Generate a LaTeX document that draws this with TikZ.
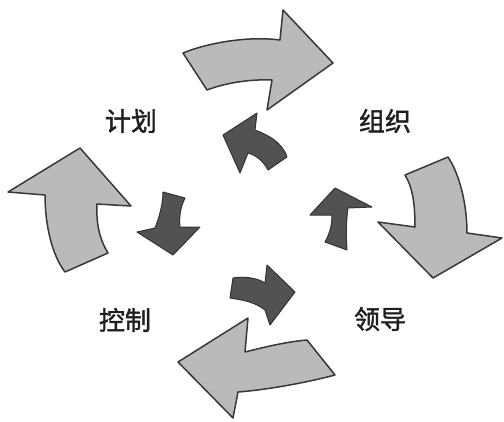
\documentclass[tikz,border=0pt]{standalone}
\usepackage{fontspec}
\newfontfamily\cjk[FakeBold=1.6]{Noto Sans CJK SC}
\tikzset{
  bigarrow/.style={fill=black!27, draw=black!78, line width=1.5pt, line join=round},
  smallarrow/.style={fill=black!68, draw=black!80, line width=1pt, line join=round},
  label/.style={font=\cjk\fontsize{26}{30}\selectfont, text=black!88, inner sep=0pt}
}
\begin{document}
\begin{tikzpicture}[x=1pt,y=-1pt]
\useasboundingbox (0,0) rectangle (504,421);
% big light arrows (clockwise)
\draw[bigarrow] (183,53) .. controls (210,42) and (250,36) .. (280,40) -- (283,10) -- (333,63) -- (267,110) -- (272,80) .. controls (250,79) and (225,83) .. (207,90) -- cycle;
\draw[bigarrow] (405,175) -- (448,157) .. controls (460,175) and (467,205) .. (467,233) -- (502,238) -- (433,278) -- (378,222) -- (415,227) .. controls (415,205) and (413,188) .. (405,175) -- cycle;
\draw[bigarrow] (178,362) -- (248,318) -- (245,352) .. controls (265,347) and (285,342) .. (307,340) -- (335,375) .. controls (305,383) and (265,390) .. (238,392) -- (233,418) -- cycle;
\draw[bigarrow] (80,148) -- (131,206) -- (97,204) .. controls (96,225) and (100,240) .. (108,253) -- (65,272) .. controls (52,255) and (45,225) .. (45,195) -- (8,192) -- cycle;
% small dark arrows (counter-clockwise)
\draw[smallarrow] (223,135) -- (257,113) -- (255,130) .. controls (268,135) and (282,142) .. (287,157) -- (268,170) .. controls (263,160) and (255,155) .. (248,153) -- (240,173) -- cycle;
\draw[smallarrow] (163,192) -- (185,198) .. controls (180,208) and (179,218) .. (180,227) -- (200,227) -- (173,255) -- (137,232) -- (155,228) .. controls (160,215) and (163,203) .. (163,192) -- cycle;
\draw[smallarrow] (233,278) .. controls (245,276) and (257,278) .. (265,283) -- (267,265) -- (295,292) -- (270,325) -- (265,310) .. controls (255,302) and (243,300) .. (230,298) -- cycle;
\draw[smallarrow] (310,215) -- (335,188) -- (372,207) -- (348,208) .. controls (346,222) and (346,237) .. (347,250) -- (325,242) .. controls (330,233) and (332,225) .. (332,215) -- cycle;
% labels
\node[label] (plan) at (131,121) {计划};
\node[label] (org) at (385,121) {组织};
\node[label] (ctrl) at (125,320) {控制};
\node[label] (lead) at (380,319) {领导};
\end{tikzpicture}
\end{document}
